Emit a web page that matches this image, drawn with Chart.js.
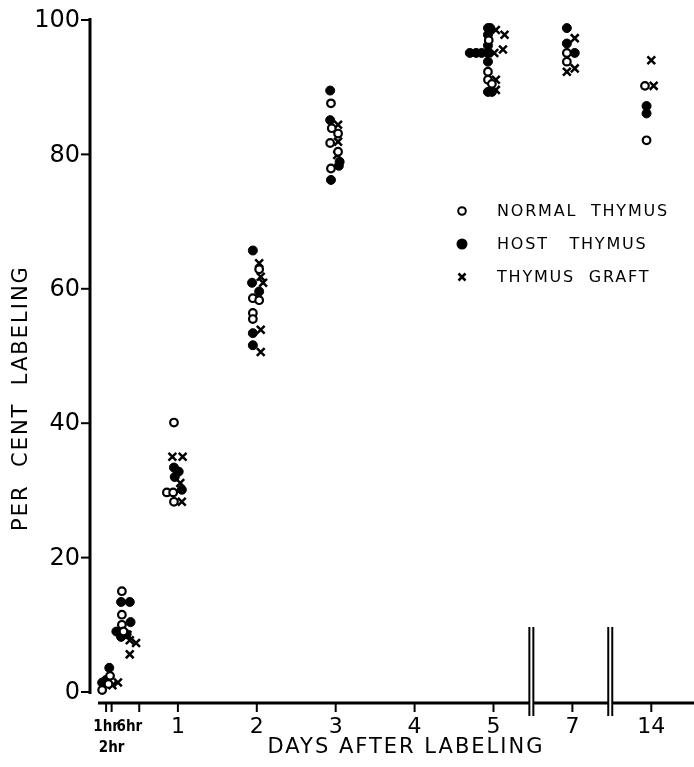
<!DOCTYPE html>
<html>
<head>
<meta charset="utf-8">
<script src="https://cdn.jsdelivr.net/npm/chart.js@4.4.1/dist/chart.umd.min.js"></script>
<style>
  body { margin: 0; background: #fff; }
</style>
</head>
<body>
<canvas id="labelChart" width="694" height="767"></canvas>
<script>
// x is the position on the broken time axis:
// hours sit between 0 and 1, then day 1..5 -> 1..5, day 7 -> 6, day 14 -> 7
const normalThymus = [
  [0.04, 0.3], [0.14, 2.4], [0.12, 1.2],
  [0.29, 15.0], [0.29, 11.5], [0.29, 10.0], [0.31, 9.0],
  [0.95, 40.1], [0.86, 29.7], [0.94, 29.7], [0.95, 28.3],
  [2.03, 62.9], [1.95, 58.6], [2.03, 58.3], [1.95, 56.4], [1.95, 55.5],
  [2.94, 87.6], [2.95, 83.9], [3.03, 83.1], [2.93, 81.7], [3.03, 80.4], [2.94, 77.9],
  [4.94, 97.0], [4.93, 92.3], [4.93, 91.1], [4.98, 90.5],
  [5.93, 95.1], [5.93, 93.8],
  [6.92, 90.2], [6.94, 82.1]
];
const hostThymus = [
  [0.13, 3.6], [0.04, 1.4], [0.09, 1.8],
  [0.28, 13.4], [0.39, 13.4], [0.40, 10.4], [0.22, 9.0], [0.28, 8.2], [0.35, 8.6],
  [0.95, 33.4], [1.01, 32.8], [0.96, 32.0], [1.05, 30.1],
  [1.95, 65.7], [1.94, 60.9], [2.03, 59.6], [1.95, 53.4], [1.95, 51.6],
  [2.93, 89.5], [2.93, 85.1], [3.05, 78.9], [3.04, 78.3], [2.94, 76.2],
  [4.93, 98.8], [4.96, 98.8], [4.93, 97.8], [4.93, 96.2], [4.70, 95.1], [4.78, 95.1],
  [4.85, 95.1], [4.93, 95.1], [4.93, 93.8], [4.93, 89.3], [4.98, 89.3],
  [5.93, 98.8], [5.93, 96.5], [6.03, 95.1],
  [6.94, 87.2], [6.94, 86.1]
];
const thymusGraft = [
  [0.24, 1.4], [0.17, 1.0],
  [0.39, 7.7], [0.47, 7.3], [0.39, 5.6], [0.36, 8.5],
  [0.93, 35.0], [1.06, 35.0], [1.03, 31.1], [1.05, 28.3],
  [2.03, 63.8], [2.05, 61.8], [2.08, 60.9], [2.05, 53.9], [2.05, 50.6],
  [3.03, 84.4], [3.03, 81.9], [3.02, 79.9],
  [5.03, 98.5], [5.14, 97.8], [5.12, 95.6], [5.01, 95.1], [5.03, 91.1], [5.03, 89.6],
  [6.03, 97.3], [5.93, 92.3], [6.03, 92.8],
  [7.00, 94.0], [7.03, 90.2]
];

const xTickPos = [0.09, 0.16, 0.51, 1, 2, 3, 4, 5, 6, 7];
const xTickLabels = ['1hr', '2hr', '6hr', '1', '2', '3', '4', '5', '7', '14'];
const yTicks = [0, 20, 40, 60, 80, 100];
const axisBreaks = [5.48, 6.48];
const legendLabels = ['NORMAL  THYMUS', 'HOST   THYMUS', 'THYMUS  GRAFT'];

const toPoints = arr => arr.map(p => ({ x: p[0], y: p[1] }));

// draws the hand-style axes, breaks, labels and legend
const paperAxes = {
  id: 'paperAxes',
  afterDraw(chart) {
    const ctx = chart.ctx;
    const xs = chart.scales.x;
    const ys = chart.scales.y;
    const y0 = ys.getPixelForValue(0);
    const yAxisX = xs.getPixelForValue(0) - 9;
    const xAxisY = y0 + 11;

    ctx.save();
    ctx.strokeStyle = '#000';
    ctx.fillStyle = '#000';
    ctx.lineCap = 'butt';

    // y axis
    ctx.lineWidth = 3;
    ctx.beginPath();
    ctx.moveTo(yAxisX, ys.getPixelForValue(100) - 2);
    ctx.lineTo(yAxisX, y0 + 2);
    ctx.stroke();

    ctx.font = '24px "DejaVu Sans"';
    ctx.textAlign = 'right';
    ctx.textBaseline = 'middle';
    yTicks.forEach(v => {
      const py = ys.getPixelForValue(v);
      ctx.lineWidth = 2;
      ctx.beginPath();
      ctx.moveTo(yAxisX - 9, py);
      ctx.lineTo(yAxisX, py);
      ctx.stroke();
      ctx.fillText(String(v), yAxisX - 10, py + 1);
    });

    // x axis, split at the breaks
    const bx = axisBreaks.map(b => xs.getPixelForValue(b));
    const segs = [[xs.getPixelForValue(0) - 1, bx[0] - 2], [bx[0] + 2, bx[1] - 2], [bx[1] + 2, chart.width]];
    ctx.lineWidth = 3;
    segs.forEach(s => {
      ctx.beginPath();
      ctx.moveTo(s[0], xAxisY);
      ctx.lineTo(s[1], xAxisY);
      ctx.stroke();
    });
    ctx.lineWidth = 2;
    bx.forEach(b => {
      [b - 2, b + 2].forEach(lx => {
        ctx.beginPath();
        ctx.moveTo(lx, xAxisY - 76);
        ctx.lineTo(lx, xAxisY + 13);
        ctx.stroke();
      });
    });

    xTickPos.forEach((v, i) => {
      const px = xs.getPixelForValue(v);
      ctx.lineWidth = 2;
      ctx.beginPath();
      ctx.moveTo(px, xAxisY);
      ctx.lineTo(px, xAxisY + 9);
      ctx.stroke();
      const lbl = xTickLabels[i];
      ctx.textBaseline = 'alphabetic';
      if (lbl.endsWith('hr')) {
        ctx.font = 'bold 15px "DejaVu Sans Condensed", "DejaVu Sans"';
        if (lbl === '1hr') { ctx.textAlign = 'center'; ctx.fillText(lbl, px, xAxisY + 28); }
        else if (lbl === '6hr') { ctx.textAlign = 'right'; ctx.fillText(lbl, px + 3, xAxisY + 28); }
        else { ctx.textAlign = 'center'; ctx.fillText(lbl, px, xAxisY + 49); }
      } else {
        ctx.font = '22px "DejaVu Sans"';
        ctx.textAlign = 'center';
        ctx.fillText(lbl, px, xAxisY + 30);
      }
    });

    // axis titles
    ctx.font = '21px "DejaVu Sans"';
    ctx.textAlign = 'center';
    ctx.textBaseline = 'middle';
    ctx.letterSpacing = '2px';
    ctx.fillText('DAYS AFTER LABELING', 406, 748);
    ctx.save();
    ctx.translate(22, 398);
    ctx.rotate(-Math.PI / 2);
    ctx.fillText('PER  CENT  LABELING', 0, 0);
    ctx.restore();

    // legend
    ctx.font = '16px "DejaVu Sans"';
    ctx.textAlign = 'left';
    ctx.letterSpacing = '1.8px';
    chart.data.datasets.forEach((ds, i) => {
      const ly = 211 + i * 33;
      const lx = 462;
      ctx.lineWidth = 2;
      if (ds.pointStyle === 'crossRot') {
        ctx.lineWidth = 2.5;
        ctx.beginPath();
        ctx.moveTo(lx - 3.5, ly - 3.5); ctx.lineTo(lx + 3.5, ly + 3.5);
        ctx.moveTo(lx + 3.5, ly - 3.5); ctx.lineTo(lx - 3.5, ly + 3.5);
        ctx.stroke();
      } else {
        ctx.beginPath();
        ctx.arc(lx, ly, ds.pointRadius, 0, Math.PI * 2);
        ctx.fillStyle = ds.pointBackgroundColor;
        ctx.fill();
        ctx.stroke();
      }
      ctx.fillStyle = '#000';
      ctx.fillText(legendLabels[i], 497, ly + 1);
    });
    ctx.restore();
  }
};

new Chart(document.getElementById('labelChart'), {
  type: 'scatter',
  data: {
    datasets: [
      {
        label: 'NORMAL THYMUS',
        data: toPoints(normalThymus),
        pointStyle: 'circle',
        pointRadius: 3.8,
        pointBackgroundColor: '#fff',
        pointBorderColor: '#000',
        pointBorderWidth: 2.2
      },
      {
        label: 'HOST THYMUS',
        data: toPoints(hostThymus),
        pointStyle: 'circle',
        pointRadius: 4.5,
        pointBackgroundColor: '#000',
        pointBorderColor: '#000',
        pointBorderWidth: 1
      },
      {
        label: 'THYMUS GRAFT',
        data: toPoints(thymusGraft),
        pointStyle: 'crossRot',
        pointRadius: 5.5,
        pointBorderColor: '#000',
        pointBorderWidth: 2.5
      }
    ]
  },
  options: {
    responsive: false,
    animation: false,
    clip: false,
    layout: { padding: { left: 99, right: 0, top: 20, bottom: 75 } },
    plugins: { legend: { display: false }, tooltip: { enabled: false } },
    scales: {
      x: { type: 'linear', min: 0, max: 7.44, display: false },
      y: { type: 'linear', min: 0, max: 100, display: false }
    }
  },
  plugins: [paperAxes]
});
</script>
</body>
</html>
